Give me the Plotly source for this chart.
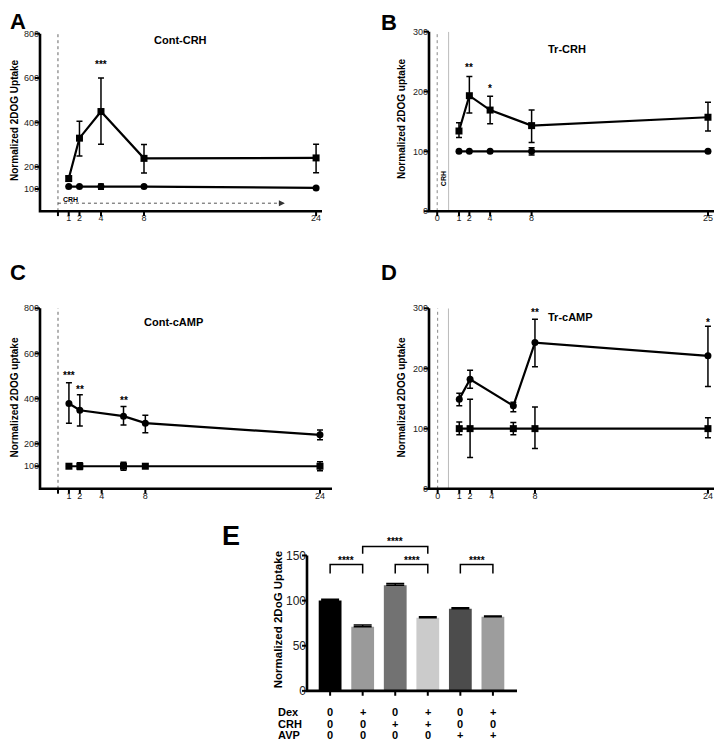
import plotly.graph_objects as go

# Panel A: Cont-CRH (hours vs normalized 2DOG uptake)
a_hours = [1, 2, 4, 8, 24]
a_crh = [147, 329, 449, 238, 240]
a_crh_hi = [12, 76, 151, 62, 62]
a_crh_lo = [12, 80, 147, 66, 67]
a_ctrl = [111, 111, 111, 111, 105]
a_ctrl_err = [0, 0, 12, 0, 0]

# Panel B: Tr-CRH
b_hours = [1, 2, 4, 8, 25]
b_crh = [134, 193, 169, 143, 157]
b_crh_hi = [14, 32, 23, 26, 25]
b_crh_lo = [11, 29, 23, 28, 23]
b_ctrl = [100, 100, 100, 100, 100]
b_ctrl_err = [0, 0, 0, 6, 0]

# Panel C: Cont-cAMP
c_hours = [1, 2, 6, 8, 24]
c_camp = [378, 348, 322, 291, 239]
c_camp_hi = [92, 69, 43, 35, 22]
c_camp_lo = [87, 70, 39, 43, 22]
c_ctrl = [100, 100, 100, 100, 100]
c_ctrl_err = [0, 15, 18, 0, 20]

# Panel D: Tr-cAMP
d_hours = [1, 2, 6, 8, 24]
d_camp = [149, 182, 138, 243, 221]
d_camp_hi = [10, 15, 6, 39, 49]
d_camp_lo = [11, 15, 10, 40, 51]
d_ctrl = [100, 100, 100, 100, 100]
d_ctrl_hi = [11, 49, 10, 36, 18]
d_ctrl_lo = [10, 48, 10, 33, 15]

# Panel E: bar chart
e_vals = [100, 71, 117, 81, 91, 82]
e_err = [1.5, 2, 2, 1, 1, 1]
e_colors = ['#000000', '#9a9a9a', '#727272', '#cbcbcb', '#4c4c4c', '#9d9d9d']
e_dex = ['0', '+', '0', '+', '0', '+']
e_crh = ['0', '0', '+', '+', '0', '0']
e_avp = ['0', '0', '0', '0', '+', '+']

# page body has an 8px margin, so the figure is drawn a bit smaller and offset
OFF = 8
W, H = 722 - 2 * OFF, 750 - 2 * OFF
FONT = 'Liberation Sans'


def px(x):
    return (x - OFF) / W


def py(y):
    return 1 - (y - OFF) / H


# panel geometry in page pixels: left, right, bottom, top, x range, y range
panels = {
    '': dict(l=40, r=322, b=208, t=27, xr=[-1.67, 24.55], yr=[0, 800]),
    '2': dict(l=429, r=714, b=208, t=25, xr=[-1.89, 25.58], yr=[0, 300]),
    '3': dict(l=40, r=332, b=491, t=307, xr=[-1.65, 25.1], yr=[0, 800]),
    '4': dict(l=429, r=714, b=491, t=307, xr=[-1.8, 24.56], yr=[0, 300]),
    '5': dict(l=307, r=517, b=697, t=559, xr=[-0.71, 5.74], yr=[0, 150]),
}
xticks = {
    '': ([0, 1, 2, 4, 8, 24], ['', '1', '2', '4', '8', '24']),
    '2': ([-1.1, 1, 2, 4, 8, 25], ['0', '1', '2', '4', '8', '25']),
    '3': ([0, 1, 2, 4, 8, 24], ['', '1', '2', '4', '8', '24']),
    '4': ([-1.0, 1, 2, 4, 8, 24], ['0', '1', '2', '4', '8', '24']),
    '5': (list(range(6)), [''] * 6),
}
yticks = {
    '': [100, 200, 400, 600, 800],
    '2': [0, 100, 200, 300],
    '3': [100, 200, 400, 600, 800],
    '4': [0, 100, 200, 300],
    '5': [0, 50, 100, 150],
}


def err(hi, lo):
    return dict(type='data', symmetric=False, array=hi, arrayminus=lo,
                color='black', thickness=1.5, width=3)


def series(x, y, hi, lo, symbol, k):
    return go.Scatter(x=x, y=y, mode='lines+markers', xaxis='x' + k, yaxis='y' + k,
                      line=dict(color='black', width=2.2),
                      marker=dict(symbol=symbol, size=7, color='black'),
                      error_y=err(hi, lo), showlegend=False, cliponaxis=False)


fig = go.Figure()
fig.add_trace(series(a_hours, a_crh, a_crh_hi, a_crh_lo, 'square', ''))
fig.add_trace(series(a_hours, a_ctrl, a_ctrl_err, a_ctrl_err, 'circle', ''))
fig.add_trace(series(b_hours, b_crh, b_crh_hi, b_crh_lo, 'square', '2'))
fig.add_trace(series(b_hours, b_ctrl, b_ctrl_err, b_ctrl_err, 'circle', '2'))
fig.add_trace(series(c_hours, c_camp, c_camp_hi, c_camp_lo, 'circle', '3'))
fig.add_trace(series(c_hours, c_ctrl, c_ctrl_err, c_ctrl_err, 'square', '3'))
fig.add_trace(series(d_hours, d_camp, d_camp_hi, d_camp_lo, 'circle', '4'))
fig.add_trace(series(d_hours, d_ctrl, d_ctrl_hi, d_ctrl_lo, 'square', '4'))

fig.add_trace(go.Bar(x=list(range(len(e_vals))), y=e_vals, xaxis='x5', yaxis='y5',
                     width=0.7, marker=dict(color=e_colors, line=dict(width=0)),
                     error_y=dict(type='data', symmetric=False, array=e_err,
                                  arrayminus=[0] * len(e_vals), color='black',
                                  thickness=1.5, width=9),
                     showlegend=False))

layout = dict(width=W, height=H, margin=dict(l=0, r=0, t=0, b=0),
              plot_bgcolor='rgba(0,0,0,0)', paper_bgcolor='white')

# overlay axes in page pixels, used to draw the axis frames of every panel
layout['xaxis6'] = dict(domain=[0, 1], range=[OFF, OFF + W], visible=False, fixedrange=True)
layout['yaxis6'] = dict(domain=[0, 1], range=[OFF + H, OFF], visible=False, fixedrange=True,
                        anchor='x6')
frame_x, frame_y, tick_x, tick_y = [], [], [], []
for k, p in panels.items():
    tf = dict(family=FONT, size=12 if k == '5' else 9, color='#222')
    layout['xaxis' + k] = dict(domain=[px(p['l']), px(p['r'])], range=p['xr'], anchor='y' + k,
                               tickvals=xticks[k][0], ticktext=xticks[k][1],
                               showline=False, ticks='', showgrid=False, zeroline=False,
                               fixedrange=True, tickfont=dict(family=FONT, size=9, color='#222'))
    layout['yaxis' + k] = dict(domain=[py(p['b']), py(p['t'])], range=p['yr'], anchor='x' + k,
                               tickvals=yticks[k], showline=False, ticks='', showgrid=False,
                               zeroline=False, fixedrange=True, tickfont=tf)
    frame_x += [p['l'], p['l'], p['r'], None]
    frame_y += [p['t'], p['b'], p['b'], None]
    sx = (p['r'] - p['l']) / (p['xr'][1] - p['xr'][0])
    sy = (p['b'] - p['t']) / (p['yr'][1] - p['yr'][0])
    for v in xticks[k][0]:
        xx = p['l'] + (v - p['xr'][0]) * sx
        tick_x += [xx, xx, None]
        tick_y += [p['b'], p['b'] + 5, None]
    for v in yticks[k]:
        yy = p['b'] - (v - p['yr'][0]) * sy
        tick_x += [p['l'] - 5, p['l'], None]
        tick_y += [yy, yy, None]
fig.update_layout(**layout)

fig.add_trace(go.Scatter(x=frame_x, y=frame_y, xaxis='x6', yaxis='y6', mode='lines',
                         line=dict(color='black', width=2.6), hoverinfo='skip',
                         showlegend=False, cliponaxis=False))
fig.add_trace(go.Scatter(x=tick_x, y=tick_y, xaxis='x6', yaxis='y6', mode='lines',
                         line=dict(color='black', width=2), hoverinfo='skip',
                         showlegend=False, cliponaxis=False))

shapes = [
    # treatment start lines
    dict(type='line', xref='x', yref='y', x0=0, x1=0, y0=0, y1=800, layer='below',
         line=dict(color='#666', width=1, dash='dot')),
    dict(type='line', xref='x', yref='y', x0=0, x1=20.6, y0=36, y1=36, layer='below',
         line=dict(color='#555', width=1, dash='dot')),
    dict(type='line', xref='x3', yref='y3', x0=0, x1=0, y0=0, y1=800, layer='below',
         line=dict(color='#666', width=1, dash='dot')),
    dict(type='line', xref='x2', yref='y2', x0=-1.1, x1=-1.1, y0=0, y1=300, layer='below',
         line=dict(color='#888', width=1, dash='dot')),
    dict(type='line', xref='x2', yref='y2', x0=0, x1=0, y0=0, y1=300, layer='below',
         line=dict(color='#bbb', width=1)),
    dict(type='line', xref='x4', yref='y4', x0=-1.0, x1=-1.0, y0=0, y1=300, layer='below',
         line=dict(color='#888', width=1, dash='dot')),
    dict(type='line', xref='x4', yref='y4', x0=0, x1=0, y0=0, y1=300, layer='below',
         line=dict(color='#bbb', width=1)),
]


def ey(v):
    # panel E data value -> paper y
    return py(697) + v / 150 * (py(559) - py(697))


def bracket(i0, i1, top, leg):
    return dict(type='path', xref='x5', yref='paper',
                path=f'M {i0},{ey(top - leg)} L {i0},{ey(top)} L {i1},{ey(top)} L {i1},{ey(top - leg)}',
                line=dict(color='black', width=1.5))


shapes += [bracket(0, 1, 140, 10), bracket(2, 3, 140, 10),
           bracket(4, 5, 140, 10), bracket(1, 3, 160, 8)]
fig.update_layout(shapes=shapes)

ann = []


def text(x, y, s, size=11, bold=True, xanchor='center', angle=0, color='black',
         xref='paper', yref='paper', height=None):
    a = dict(x=x, y=y, xref=xref, yref=yref, text=f'<b>{s}</b>' if bold else s,
             showarrow=False, xanchor=xanchor, yanchor='middle', textangle=angle,
             font=dict(family=FONT, size=size, color=color))
    if height:
        a['height'] = height
    ann.append(a)


# panel letters (kept just inside the figure's left edge)
text(0, py(14), 'A', size=22, xanchor='left', height=16)
text(px(389), py(15), 'B', size=22, height=16)
text(0, py(270), 'C', size=22, xanchor='left', height=16)
text(px(389), py(270), 'D', size=22, height=16)
text(px(231), py(539), 'E', size=27, height=20)

# panel titles
text(px(180), py(33), 'Cont-CRH', size=11)
text(px(567), py(43), 'Tr-CRH', size=11)
text(px(173), py(321), 'Cont-cAMP', size=11)
text(px(570), py(316), 'Tr-cAMP', size=11)

# y axis titles
text(px(15), py(115), 'Normalized 2DOG Uptake', size=10, angle=-90)
text(px(402), py(114), 'Normalized 2DOG uptake', size=10, angle=-90)
text(px(15), py(398), 'Normalized 2DOG uptake', size=10, angle=-90)
text(px(402), py(398), 'Normalized 2DOG uptake', size=10, angle=-90)
text(px(278), py(625), 'Normalized 2DoG Uptake', size=11.5, angle=-90)

# CRH markers
text(0.3, 53, 'CRH', size=7, xanchor='left', xref='x', yref='y')
text(-0.55, 55, 'CRH', size=7, angle=-90, xref='x2', yref='y2')
ann.append(dict(x=21.1, y=36, ax=20.4, ay=36, xref='x', yref='y', axref='x', ayref='y',
                showarrow=True, arrowhead=2, arrowsize=1.2, arrowwidth=1, arrowcolor='#333', text=''))

# significance stars
text(4, 660, '***', size=10, xref='x', yref='y')
text(2, 240, '**', size=10, xref='x2', yref='y2')
text(4, 205, '*', size=10, xref='x2', yref='y2')
text(1, 500, '***', size=10, xref='x3', yref='y3')
text(2, 440, '**', size=10, xref='x3', yref='y3')
text(6, 390, '**', size=10, xref='x3', yref='y3')
text(8, 293, '**', size=10, xref='x4', yref='y4')
text(24, 276, '*', size=10, xref='x4', yref='y4')

for i0, i1, top in [(0, 1, 140), (2, 3, 140), (4, 5, 140), (1, 3, 160)]:
    ann.append(dict(x=(i0 + i1) / 2, y=ey(top + 5), xref='x5', yref='paper', text='<b>****</b>',
                    showarrow=False, yanchor='middle', font=dict(family=FONT, size=10, color='black')))

# treatment table under panel E
for row, (label, vals) in enumerate([('Dex', e_dex), ('CRH', e_crh), ('AVP', e_avp)]):
    yy = py(719 + row * 11.5)
    text(px(276), yy, label, size=11, xanchor='left')
    for i, v in enumerate(vals):
        ann.append(dict(x=i, y=yy, xref='x5', yref='paper', text=f'<b>{v}</b>', showarrow=False,
                        yanchor='middle', font=dict(family=FONT, size=11, color='black')))

fig.update_layout(annotations=ann)
fig.write_html("out.html")
